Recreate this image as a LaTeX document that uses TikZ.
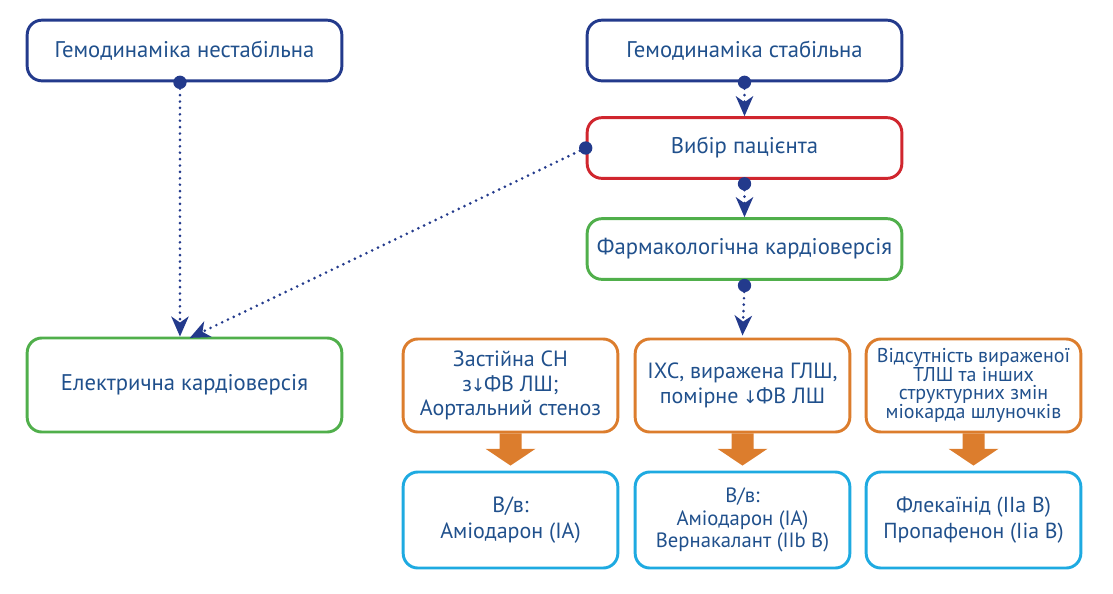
\documentclass[tikz,border=0pt]{standalone}
\usepackage{fontspec}
\setmainfont{PT Sans}
\newfontfamily\symfont{DejaVu Sans}
\usetikzlibrary{arrows.meta}
\definecolor{navy}{RGB}{35,58,140}
\definecolor{txt}{RGB}{32,80,140}
\definecolor{bred}{RGB}{208,38,46}
\definecolor{bgreen}{RGB}{80,175,75}
\definecolor{borange}{RGB}{220,125,45}
\definecolor{bblue}{RGB}{30,170,225}
\newcommand{\dn}{{\symfont\fontsize{13}{13}\selectfont\kern-1pt↓\kern-1pt}}
\tikzset{
  box/.style={draw, rounded corners=11pt, line width=2.2pt, text=txt, align=center,
    minimum width=236pt, minimum height=45.5pt, inner sep=0pt, font=\fontsize{17}{19}\selectfont},
  sbox/.style={draw, rounded corners=11pt, line width=2.2pt, text=txt, align=center,
    minimum width=161pt, inner sep=0pt, font=\fontsize{16.5}{18.4}\selectfont},
  flow/.style={navy, line width=2.2pt, line cap=round, dash pattern=on 0pt off 4.8pt,
    -{Stealth[length=15pt,width=13pt,inset=4.5pt,line cap=butt]}},
  startdot/.style={circle, fill=navy, inner sep=0pt, minimum size=10pt},
  bigarrow/.style={fill=borange, draw=none}
}
\begin{document}
\begin{tikzpicture}[x=0.75pt,y=-0.75pt]
\useasboundingbox (0,0) rectangle (1113,593);
% top boxes
\node[box, draw=navy] (unst) at (184.5,50.5) {Гемодинаміка нестабільна};
\node[box, draw=navy] (st) at (744.5,50.5) {Гемодинаміка стабільна};
\node[box, draw=bred] (sel) at (744.5,148) {Вибір пацієнта};
\node[box, draw=bgreen] (pharm) at (744.5,249) {Фармакологічна кардіоверсія};
\node[box, draw=bgreen, minimum height=70.5pt] (el) at (184.5,385) {Електрична кардіоверсія};
% orange boxes
\node[sbox, draw=borange, minimum height=69.75pt] (o1) at (510.5,385.5) {Застійна СН\\з\dn ФВ ЛШ;\\Аортальний стеноз};
\node[sbox, draw=borange, minimum height=69.75pt] (o2) at (742.5,385.5) {ІХС, виражена ГЛШ,\\помірне \dn ФВ ЛШ};
\node[sbox, draw=borange, minimum height=69.75pt, font=\fontsize{15}{13.8}\selectfont] (o3) at (973.5,385.5) {Відсутність вираженої\\ТЛШ та інших\\структурних змін\\міокарда шлуночків};
% blue boxes
\node[sbox, draw=bblue, minimum height=72pt, font=\fontsize{16.5}{19}\selectfont] (b1) at (510.5,520) {В/в:\\Аміодарон (IA)};
\node[sbox, draw=bblue, minimum height=72pt, font=\fontsize{15.5}{17}\selectfont] (b2) at (742.5,520) {В/в:\\Аміодарон (IA)\\Вернакалант (IIb B)};
\node[sbox, draw=bblue, minimum height=72pt, font=\fontsize{16.3}{19}\selectfont] (b3) at (973.5,520) {Флекаїнід (IIa B)\\Пропафенон (Iia B)};
% dotted connectors
\coordinate (u0) at ([xshift=-3.4pt]unst.south);
\coordinate (elA) at ([xshift=-3.4pt]el.north);
\coordinate (elB) at ([xshift=4pt,yshift=-1pt]el.north);
\draw[flow] (u0) -- (elA);
\draw[flow] (sel.west) -- (elB);
\draw[flow] (st.south) -- (sel.north);
\draw[flow] ([yshift=-3pt]sel.south) -- (pharm.north);
\draw[flow] ([yshift=-3.5pt]pharm.south) -- ([yshift=1.5pt]o2.north);
\node[startdot] (d1) at (u0) {};
\node[startdot] (d2) at (sel.west) {};
\node[startdot] (d3) at (st.south) {};
\node[startdot] (d4) at ([yshift=-3pt]sel.south) {};
\node[startdot] (d5) at ([yshift=-3.5pt]pharm.south) {};
% big orange arrows
\foreach \o/\b in {o1/b1,o2/b2,o3/b3}{
  \fill[bigarrow] ([xshift=-8.25pt]\o.south) -- ([xshift=-8.25pt,yshift=-11.5pt]\o.south)
    -- ([xshift=-18.75pt,yshift=-11.5pt]\o.south) -- ([yshift=3.75pt]\b.north)
    -- ([xshift=18.75pt,yshift=-11.5pt]\o.south) -- ([xshift=8.25pt,yshift=-11.5pt]\o.south)
    -- ([xshift=8.25pt]\o.south) -- cycle;
}
\end{tikzpicture}
\end{document}
